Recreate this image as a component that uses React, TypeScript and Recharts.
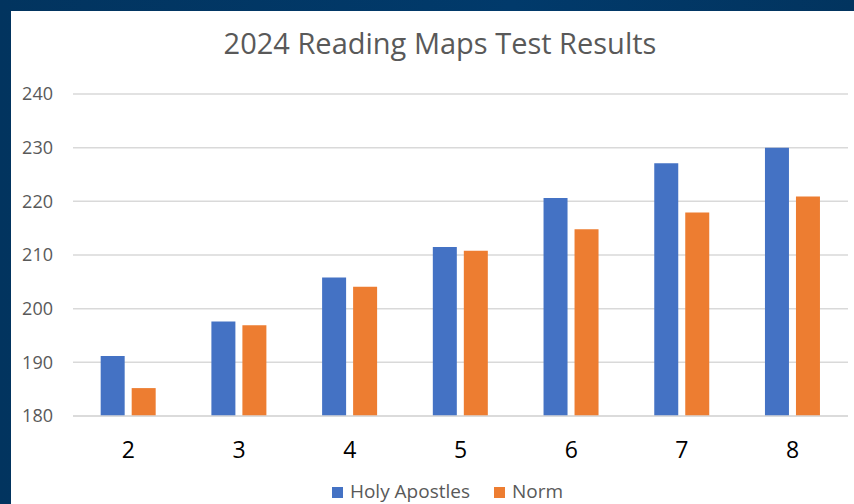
import React from "react";
import {
  Bar,
  BarChart,
  CartesianGrid,
  Legend,
  XAxis,
  YAxis,
} from "recharts";

const grades = ["2", "3", "4", "5", "6", "7", "8"];
const holyApostles = [191.2, 197.6, 205.8, 211.5, 220.6, 227.1, 230];
const norm = [185.2, 196.9, 204.1, 210.8, 214.8, 217.9, 220.9];
const yTicks = [180, 190, 200, 210, 220, 230, 240];

const data = grades.map((g, i) => ({
  grade: g,
  holy: holyApostles[i],
  norm: norm[i],
}));

const font = "'Open Sans', sans-serif";

const App = () => {
  return (
    <div
      style={{
        position: "absolute",
        left: 0,
        top: 0,
        width: 854,
        height: 504,
        background: "linear-gradient(90deg, #02345f 0%, #013a6b 60%, #02345f 100%)",
        overflow: "hidden",
        fontFamily: font,
      }}
    >
      <div
        style={{
          position: "absolute",
          left: 11,
          top: 11,
          width: 843,
          height: 493,
          background: "#fff",
        }}
      >
        <div
          style={{
            position: "absolute",
            top: 12,
            left: 0,
            width: 858,
            textAlign: "center",
            fontSize: 29,
            color: "#595959",
          }}
        >
          2024 Reading Maps Test Results
        </div>
        <BarChart
          width={843}
          height={493}
          data={data}
          margin={{ top: 83, right: 6, left: 0, bottom: 22 }}
          barCategoryGap="25%"
          barGap={7}
        >
          <CartesianGrid vertical={false} stroke="#d9d9d9" strokeWidth={1.5} />
          <XAxis
            dataKey="grade"
            axisLine={{ stroke: "#d9d9d9", strokeWidth: 1.5 }}
            tickLine={false}
            height={40}
            tick={{ fill: "#000", fontSize: 23, fontFamily: font }}
            tickMargin={20}
          />
          <YAxis
            domain={[180, 240]}
            ticks={yTicks}
            width={62}
            axisLine={false}
            tickLine={false}
            tick={{ fill: "#595959", fontSize: 18, fontFamily: font }}
            tickMargin={14}
          />
          <Legend
            verticalAlign="bottom"
            iconType="square"
            iconSize={11}
            wrapperStyle={{
              top: 467,
              left: 23,
              bottom: "auto",
              fontSize: 19,
              fontFamily: font,
            }}
            formatter={(value) => (
              <span
                style={{
                  color: "#595959",
                  marginLeft: 3,
                  marginRight: value === "Holy Apostles" ? 14 : 0,
                }}
              >
                {value}
              </span>
            )}
          />
          <Bar
            dataKey="holy"
            name="Holy Apostles"
            fill="#4472c4"
            isAnimationActive={false}
          />
          <Bar
            dataKey="norm"
            name="Norm"
            fill="#ed7d31"
            isAnimationActive={false}
          />
        </BarChart>
      </div>
    </div>
  );
};

export default App;
